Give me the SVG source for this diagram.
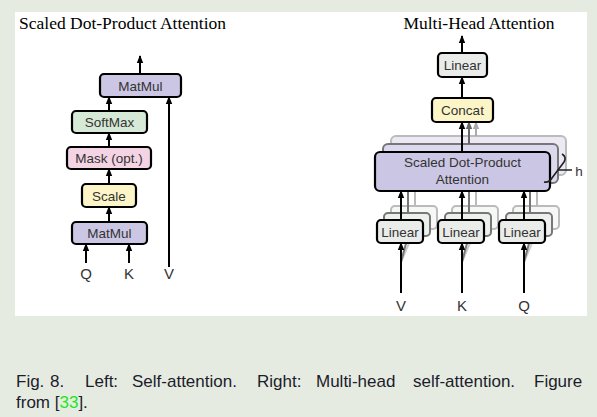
<svg xmlns="http://www.w3.org/2000/svg" width="597" height="417" viewBox="0 0 597 417">
<defs>
<marker id="ah" markerUnits="userSpaceOnUse" markerWidth="8" markerHeight="8" viewBox="0 0 8 8" refX="7" refY="4" orient="auto"><path d="M0,0.8 L8,4 L0,7.2 Z" fill="#000"/></marker>
<marker id="ahg" markerUnits="userSpaceOnUse" markerWidth="8" markerHeight="8" viewBox="0 0 8 8" refX="7" refY="4" orient="auto"><path d="M0,0.8 L8,4 L0,7.2 Z" fill="#666"/></marker>
<marker id="ahl" markerUnits="userSpaceOnUse" markerWidth="8" markerHeight="8" viewBox="0 0 8 8" refX="7" refY="4" orient="auto"><path d="M0,0.8 L8,4 L0,7.2 Z" fill="#aaa"/></marker>
<filter id="soft" x="-10%" y="-10%" width="120%" height="120%"><feGaussianBlur stdDeviation="0.6"/></filter>
</defs>
<style>
.box{stroke:#000;stroke-width:2.2;}
.lbl{font-family:"Liberation Sans",Arial,sans-serif;font-size:13.5px;fill:#333;text-anchor:middle;}
.io{font-family:"Liberation Sans",Arial,sans-serif;font-size:15px;fill:#333;text-anchor:middle;}
.ttl{font-family:"Liberation Serif","Times New Roman",serif;font-size:17.5px;fill:#000;}
.cap{font-family:"Liberation Sans",Arial,sans-serif;font-size:17px;fill:#1c1c2a;}
.ar{stroke:#000;stroke-width:2;fill:none;marker-end:url(#ah);}
.mm{fill:#cbc6e3;}
.sm{fill:#d6e9d6;}
.mk{fill:#f3d3e4;}
.sc{fill:#fcf5c7;}
.li{fill:#e9ece9;}
.g2{stroke:#777;stroke-width:2;}
.g3{stroke:#bbb;stroke-width:2;}
</style>
<rect x="0" y="0" width="597" height="417" fill="#e6ebe2"/>
<rect x="15" y="12" width="572" height="304" fill="#fff"/>

<text class="ttl" x="19" y="29">Scaled Dot-Product Attention</text>
<text class="ttl" x="479" y="29" text-anchor="middle">Multi-Head Attention</text>

<g id="ghosts" filter="url(#soft)">
<rect x="391" y="136" width="175" height="39" rx="5" fill="#ece9f5" class="g3"/>
<rect x="383" y="144" width="175" height="39" rx="5" fill="#dcd8ee" class="g2"/>
<rect x="391" y="206" width="46" height="23" rx="4" fill="#f6f7f6" class="g3"/>
<rect x="384" y="213" width="46" height="23" rx="4" fill="#eef0ee" class="g2"/>
<rect x="452" y="206" width="46" height="23" rx="4" fill="#f6f7f6" class="g3"/>
<rect x="445" y="213" width="46" height="23" rx="4" fill="#eef0ee" class="g2"/>
<rect x="513" y="206" width="46" height="23" rx="4" fill="#f6f7f6" class="g3"/>
<rect x="506" y="213" width="46" height="23" rx="4" fill="#eef0ee" class="g2"/>
<line x1="415" y1="206" x2="415" y2="175" stroke="#bbb" stroke-width="2"/>
<line x1="408" y1="213" x2="408" y2="183" stroke="#777" stroke-width="2"/>
<line x1="476" y1="206" x2="476" y2="175" stroke="#bbb" stroke-width="2"/>
<line x1="469" y1="213" x2="469" y2="183" stroke="#777" stroke-width="2"/>
<line x1="537" y1="206" x2="537" y2="175" stroke="#bbb" stroke-width="2"/>
<line x1="530" y1="213" x2="530" y2="183" stroke="#777" stroke-width="2"/>
<path d="M401,262 L415,229 M462,262 L476,229 M524,262 L538,229" stroke="#ccc" stroke-width="2" fill="none"/>
<path d="M401,262 L408,236 M462,262 L469,236 M524,262 L531,236" stroke="#777" stroke-width="2" fill="none"/>
</g>

<g id="connectors">
<line class="ar" x1="140" y1="74" x2="140" y2="56"/>
<line class="ar" x1="109" y1="111" x2="109" y2="97"/>
<line class="ar" x1="109" y1="147" x2="109" y2="133"/>
<line class="ar" x1="109" y1="184" x2="109" y2="169"/>
<line class="ar" x1="109" y1="222" x2="109" y2="207"/>
<line class="ar" x1="169" y1="267" x2="169" y2="97"/>
<line class="ar" x1="86" y1="263" x2="86" y2="244"/>
<line class="ar" x1="129" y1="263" x2="129" y2="244"/>
<line class="ar" x1="462" y1="53" x2="462" y2="36"/>
<line class="ar" x1="462" y1="98" x2="462" y2="77"/>
<line class="ar" x1="462" y1="152" x2="462" y2="122"/>
<line x1="469" y1="144" x2="469" y2="122" stroke="#666" stroke-width="2" marker-end="url(#ahg)"/>
<line x1="476" y1="136" x2="476" y2="122" stroke="#aaa" stroke-width="2" marker-end="url(#ahl)"/>
<line class="ar" x1="401" y1="220" x2="401" y2="191"/>
<line class="ar" x1="462" y1="220" x2="462" y2="191"/>
<line class="ar" x1="524" y1="220" x2="524" y2="191"/>
<line class="ar" x1="401" y1="293" x2="401" y2="243"/>
<line class="ar" x1="462" y1="293" x2="462" y2="243"/>
<line class="ar" x1="524" y1="293" x2="524" y2="243"/>
</g>

<g id="matmul-top"><rect class="box mm" x="100" y="74" width="81" height="23" rx="4"/><text class="lbl" x="140.5" y="90.5">MatMul</text></g>
<g id="softmax"><rect class="box sm" x="72" y="111" width="75" height="22" rx="4"/><text class="lbl" x="109.5" y="127">SoftMax</text></g>
<g id="mask"><rect class="box mk" x="67" y="147" width="84" height="22" rx="4"/><text class="lbl" x="109" y="163">Mask (opt.)</text></g>
<g id="scale"><rect class="box sc" x="82" y="184" width="54" height="23" rx="4"/><text class="lbl" x="109" y="200.5">Scale</text></g>
<g id="matmul-bottom"><rect class="box mm" x="72" y="222" width="75" height="22" rx="4"/><text class="lbl" x="109.5" y="238">MatMul</text></g>
<g id="q-left"><text class="io" x="86" y="279">Q</text></g>
<g id="k-left"><text class="io" x="129" y="279">K</text></g>
<g id="v-left"><text class="io" x="169" y="279">V</text></g>

<g id="linear-top"><rect class="box li" x="438" y="53" width="49" height="24" rx="4"/><text class="lbl" x="462.5" y="70">Linear</text></g>
<g id="concat"><rect class="box sc" x="432" y="98" width="61" height="24" rx="4"/><text class="lbl" x="462.5" y="115">Concat</text></g>
<g id="sdpa"><rect class="box mm" x="375" y="152" width="175" height="39" rx="5"/><text class="lbl" x="462.5" y="167">Scaled Dot-Product</text><text class="lbl" x="462.5" y="184">Attention</text></g>
<g id="h-brace"><path d="M562,154 Q567,157 564,162 L552,178 Q549,183 544,182 M557,170 L572,170" stroke="#222" stroke-width="1.6" fill="none"/><text class="lbl" x="579" y="176">h</text></g>
<g id="linear-v"><rect class="box li" x="377" y="220" width="46" height="23" rx="4"/><text class="lbl" x="400" y="236.5">Linear</text></g>
<g id="linear-k"><rect class="box li" x="438" y="220" width="46" height="23" rx="4"/><text class="lbl" x="461" y="236.5">Linear</text></g>
<g id="linear-q"><rect class="box li" x="499" y="220" width="46" height="23" rx="4"/><text class="lbl" x="522" y="236.5">Linear</text></g>
<g id="v-right"><text class="io" x="401" y="311">V</text></g>
<g id="k-right"><text class="io" x="462" y="311">K</text></g>
<g id="q-right"><text class="io" x="524" y="311">Q</text></g>

<g id="caption">
<text class="cap" y="387"><tspan x="16">Fig.</tspan><tspan x="50">8.</tspan><tspan x="85">Left:</tspan><tspan x="132">Self-attention.</tspan><tspan x="257">Right:</tspan><tspan x="316">Multi-head</tspan><tspan x="413">self-attention.</tspan><tspan x="534">Figure</tspan></text>
<text class="cap" x="16" y="408">from [<tspan fill="#22e622">33</tspan>].</text>
</g>
</svg>
